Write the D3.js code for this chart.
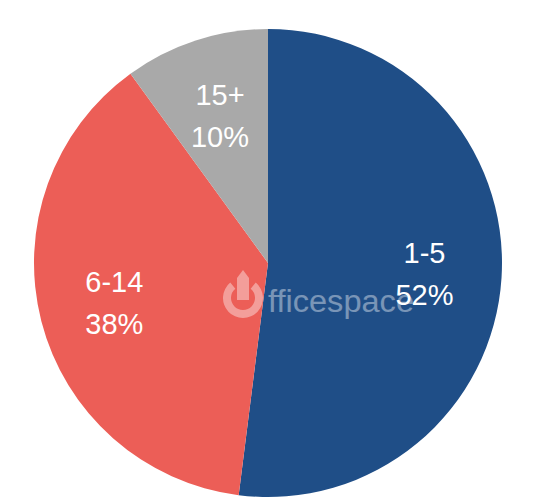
<!DOCTYPE html>
<html>
<head>
<meta charset="utf-8">
<script src="https://cdn.jsdelivr.net/npm/d3@7"></script>
<style>
  html, body { margin: 0; padding: 0; background: #ffffff; }
  svg { display: block; }
</style>
</head>
<body>
<div id="chart"></div>
<script>
const categories = ["1-5", "6-14", "15+"];
const values = [52, 38, 10];
const percentLabels = ["52%", "38%", "10%"];
const colors = ["#1f4e87", "#ec5e57", "#a9a9a9"];

const width = 536, height = 500;
const cx = 268, cy = 263, radius = 234;

const svg = d3.select("#chart").append("svg")
  .attr("width", width).attr("height", height);

const g = svg.append("g").attr("transform", `translate(${cx},${cy})`);

const pie = d3.pie().sort(null).value(d => d.value);
const data = categories.map((c, i) => ({ cat: c, value: values[i], pct: percentLabels[i], color: colors[i] }));
const arcs = pie(data);

const arc = d3.arc().innerRadius(0).outerRadius(radius);

g.selectAll("path.slice").data(arcs).enter().append("path")
  .attr("class", "slice")
  .attr("d", arc)
  .attr("fill", d => d.data.color);

// label radial positions (fraction of radius) per slice
const labelRadius = [0.67, 0.678, 0.664];
const labelArc = (d, i) => d3.arc().innerRadius(radius * labelRadius[i]).outerRadius(radius * labelRadius[i]).centroid(d);

const labels = g.selectAll("g.lbl").data(arcs).enter().append("g")
  .attr("class", "lbl")
  .attr("transform", (d, i) => { const p = labelArc(d, i); return `translate(${p[0]},${p[1]})`; });

labels.append("text")
  .attr("text-anchor", "middle")
  .attr("y", -10)
  .attr("fill", "#ffffff")
  .style("font-family", "'Liberation Sans', Arial, sans-serif")
  .style("font-size", "29px")
  .text(d => d.data.cat);

labels.append("text")
  .attr("text-anchor", "middle")
  .attr("y", 32)
  .attr("fill", "#ffffff")
  .style("font-family", "'Liberation Sans', Arial, sans-serif")
  .style("font-size", "29px")
  .text(d => d.data.pct);

// watermark
const wm = svg.append("g").attr("opacity", 0.4);
const ringR = 16;
const ringX = 243, ringY = 298;
wm.append("path")
  .attr("d", d3.arc().innerRadius(ringR - 4).outerRadius(ringR + 4).startAngle(Math.PI * 0.22).endAngle(Math.PI * 1.78)())
  .attr("transform", `translate(${ringX},${ringY})`)
  .attr("fill", "#ffffff");
wm.append("path")
  .attr("d", `M${ringX - 6},${ringY + 2} L${ringX - 6},${ringY - 20} L${ringX},${ringY - 28} L${ringX + 6},${ringY - 20} L${ringX + 6},${ringY + 2} Z`)
  .attr("fill", "#ffffff");
wm.append("text")
  .attr("x", 268).attr("y", 312)
  .attr("fill", "#ffffff")
  .attr("textLength", 146)
  .attr("lengthAdjust", "spacingAndGlyphs")
  .style("font-family", "'Liberation Sans', Arial, sans-serif")
  .style("font-size", "31px")
  .text("fficespace");
</script>
</body>
</html>
